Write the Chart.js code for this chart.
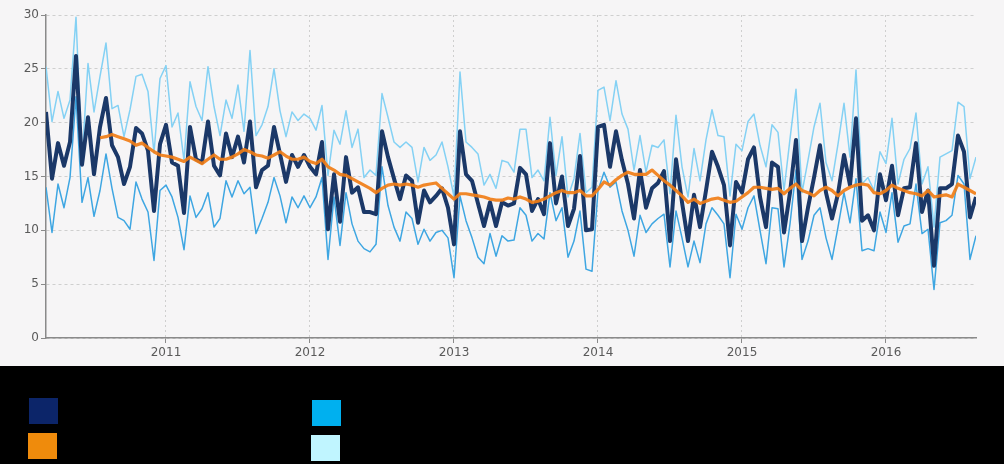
<!DOCTYPE html>
<html>
<head>
<meta charset="utf-8">
<script src="https://cdn.jsdelivr.net/npm/chart.js@4/dist/chart.umd.min.js"></script>
<style>
  body { margin: 0; background: #000; width: 1004px; height: 464px; overflow: hidden; }
  #wrap { position: relative; width: 1004px; height: 366px; background: #f6f5f6; }
  #legend { position: relative; width: 1004px; height: 98px; background: #000; }
  .sw { position: absolute; width: 29px; height: 26px; }
</style>
</head>
<body>
<div id="wrap"><canvas id="chartCanvas"></canvas></div>
<div id="legend">
  <div class="sw" style="left:29px; top:32px; background:#0c2569;"></div>
  <div class="sw" style="left:28px; top:67px; background:#ef8b0c;"></div>
  <div class="sw" style="left:312px; top:34px; background:#00b0ef;"></div>
  <div class="sw" style="left:311px; top:69px; background:#c0f5ff;"></div>
</div>
<script>
// semi-monthly readings, first one at March 2010
const startYear = 2010 + 2 / 12;
const step = 1 / 24;
const yearTicks = [2011, 2012, 2013, 2014, 2015, 2016];

const mainSeries = [
  21.0, 14.8, 18.1, 16.0, 18.2, 26.2, 16.1, 20.5, 15.2, 19.6,
  22.3, 17.9, 16.8, 14.3, 15.9, 19.5, 19.0, 17.4, 11.8, 18.0,
  19.8, 16.3, 16.0, 11.6, 19.6, 16.6, 16.3, 20.1, 16.0, 15.1,
  19.0, 16.8, 18.7, 16.3, 20.1, 14.0, 15.6, 16.0, 19.6, 17.1,
  14.5, 17.0, 15.9, 17.0, 15.9, 15.2, 18.2, 10.1, 15.2, 10.8,
  16.8, 13.5, 14.0, 11.7, 11.7, 11.5, 19.2, 16.8, 14.8, 12.9,
  15.1, 14.6, 10.7, 13.7, 12.6, 13.2, 13.9, 12.1, 8.7, 19.2,
  15.2, 14.6, 12.5, 10.4, 12.6, 10.4, 12.6, 12.3, 12.5,
  15.8, 15.2, 11.8, 12.9, 11.5, 18.1, 12.5, 15.0, 10.4, 12.0,
  16.9, 10.0, 10.1, 19.6, 19.8, 15.9, 19.2, 16.5, 14.3, 11.1,
  15.6, 12.1, 13.9, 14.4, 15.5, 9.0, 16.6, 12.6, 9.0, 13.3,
  10.3, 13.7, 17.3, 15.9, 14.2, 8.6, 14.5, 13.5, 16.6, 17.7,
  13.1, 10.3, 16.3, 15.9, 9.8, 13.5, 18.4, 9.0, 12.1, 14.9,
  17.9, 13.5, 11.1, 13.4, 17.0, 14.2, 20.4, 10.9, 11.4, 10.0,
  15.2, 12.8, 16.0, 11.4, 13.9, 14.0, 18.1, 11.7, 13.7, 6.7,
  13.9, 13.9, 14.3, 18.8, 17.3, 11.2, 13.1
];

const movingAvg = [
  null, null, null, null, null, null, null, null, null,
  18.6, 18.7, 18.9, 18.7, 18.5, 18.3, 17.9, 18.1, 17.7, 17.3,
  17.0, 16.9, 16.8, 16.6, 16.4, 16.8, 16.5, 16.2, 16.6, 17.0,
  16.6, 16.6, 16.8, 17.1, 17.5, 17.3, 17.0, 16.9, 16.7, 17.0,
  17.3, 16.9, 16.6, 16.6, 16.8, 16.4, 16.2, 16.6, 15.9, 15.6,
  15.2, 15.1, 14.8, 14.5, 14.2, 13.9, 13.5, 13.9, 14.2, 14.3,
  14.2, 14.3, 14.2, 14.0, 14.2, 14.3, 14.4, 13.9, 13.4, 12.9,
  13.4, 13.4, 13.3, 13.2, 13.1, 12.9, 12.8, 12.8, 13.0,
  12.9,
  13.1, 12.9, 12.6, 12.7, 12.9, 13.2, 13.5, 13.7, 13.5, 13.5,
  13.7, 13.2, 13.2, 13.8, 14.5, 14.2, 14.7, 15.1, 15.4, 15.2,
  15.2, 15.2, 15.6, 15.1, 14.6, 14.2, 13.7, 13.2, 12.6, 12.9,
  12.5, 12.7, 12.9, 13.0, 12.8, 12.6, 12.7, 13.1, 13.5, 14.0,
  14.0, 13.9, 13.8, 13.9, 13.4, 13.9, 14.3, 13.7, 13.5, 13.2,
  13.7, 14.0, 13.7, 13.2, 13.7, 14.0, 14.2, 14.3, 14.2, 13.5,
  13.4, 13.7, 14.2, 13.9, 13.7, 13.5, 13.4, 13.2, 13.7, 13.1,
  13.2, 13.3, 13.1, 14.3, 14.0, 13.7, 13.4
];

const upperSeries = [
  25.2, 20.1, 22.9, 20.4, 22.1, 29.8, 16.5, 25.5, 21.0, 24.3,
  27.4, 21.3, 21.6, 18.7, 21.2, 24.3, 24.5, 22.9, 17.2, 24.1,
  25.3, 19.6, 20.9, 16.5, 23.8, 21.5, 20.2, 25.2, 21.5, 18.8,
  22.1, 20.4, 23.5, 19.2, 26.7,
  18.8, 19.8, 21.5, 25.0, 21.1, 18.7, 21.0, 20.2, 20.8, 20.4,
  19.3, 21.6, 15.1, 19.3, 18.0, 21.1, 17.7, 19.4, 14.9, 15.6,
  15.1, 22.7, 20.5, 18.2, 17.7, 18.2, 17.7, 14.5, 17.7, 16.5,
  17.0, 18.2, 15.9, 13.1, 24.7, 18.2, 17.7, 17.1, 14.2, 15.2,
  13.9, 16.5, 16.3,
  15.4,
  19.4, 19.4, 14.9, 15.6, 14.6, 20.5, 15.1, 18.7, 13.1, 14.8,
  19.0, 13.5, 14.0, 23.0, 23.3, 20.2, 23.9, 20.8, 19.4, 15.6,
  18.8, 15.4, 17.9, 17.7, 18.4, 13.4, 20.7, 15.9, 13.1, 17.6,
  14.6, 18.4, 21.2, 18.8, 18.7, 13.2, 18.0, 17.4, 20.1, 20.8,
  17.9, 15.9, 19.8, 19.1, 13.7, 18.5, 23.1, 13.5, 16.5, 19.6,
  21.8, 16.3, 14.6, 18.0, 21.8, 16.8, 24.9, 14.3, 14.9, 13.7,
  17.3, 16.2, 20.4, 14.3, 16.6, 17.6, 20.9, 14.3, 15.9, 10.3,
  16.8, 17.1, 17.4, 21.9, 21.5, 14.8, 16.8
];

const lowerSeries = [
  14.0, 9.8, 14.3, 12.1, 14.9, 22.4, 12.6, 14.9, 11.3, 13.7,
  17.1, 13.9, 11.2, 10.9, 10.1, 14.5, 12.9, 11.7, 7.2, 13.7,
  14.2, 13.1, 11.2, 8.2, 13.2, 11.2, 12.0, 13.5, 10.3, 11.1,
  14.6, 13.1, 14.6, 13.4, 14.0, 9.7, 11.1, 12.6, 14.9, 13.2,
  10.7, 13.1, 12.1, 13.2, 12.1, 13.1, 14.9, 7.3, 13.1, 8.6,
  13.5, 10.6, 9.0, 8.3, 8.0, 8.7, 15.9, 12.3, 10.3, 9.0,
  11.7, 11.1, 8.7, 10.1, 9.0, 9.8, 10.0, 9.3, 5.6, 13.2,
  10.9, 9.3, 7.5, 6.9, 9.7, 7.6, 9.5, 9.0,
  9.1,
  12.1, 11.4, 9.0, 9.7, 9.2, 13.5, 10.9, 12.1, 7.5, 9.0,
  11.8, 6.4, 6.2, 13.7, 15.4, 14.0, 14.5, 11.8, 10.0, 7.6,
  11.4, 9.8, 10.6, 11.1, 11.5, 6.6, 11.8, 9.3, 6.6, 9.0,
  7.0, 10.6, 12.1, 11.4, 10.6, 5.6, 11.5, 10.1, 12.1, 13.2,
  10.0, 6.9, 12.1, 12.0, 6.6, 10.6, 15.6, 7.3, 9.0, 11.4,
  12.1, 9.3, 7.3, 10.3, 13.5, 10.7, 14.8, 8.1, 8.3, 8.1,
  11.7, 9.8, 13.5, 8.9, 10.4, 10.6, 14.3, 9.7, 10.1, 4.5,
  10.7, 10.9, 11.4, 15.1, 14.3, 7.3, 9.5
];

function toPoints(arr) {
  return arr.map((v, i) => ({ x: startYear + i * step, y: v }));
}

const lastX = startYear + (mainSeries.length - 1) * step;
const tickFont = { family: 'DejaVu Sans', size: 12 };

const ctx = document.getElementById('chartCanvas').getContext('2d');
new Chart(ctx, {
  type: 'line',
  data: {
    datasets: [
      { label: 'Moving average', data: toPoints(movingAvg), borderColor: 'rgba(240,125,22,0.92)', borderWidth: 3.2 },
      { label: 'Average', data: toPoints(mainSeries), borderColor: '#1b3868', borderWidth: 4 },
      { label: 'Upper', data: toPoints(upperSeries), borderColor: '#84d1f4', borderWidth: 1.5 },
      { label: 'Lower', data: toPoints(lowerSeries), borderColor: '#3ea6e2', borderWidth: 1.5 }
    ]
  },
  options: {
    responsive: true,
    maintainAspectRatio: false,
    animation: false,
    elements: {
      point: { radius: 0, hoverRadius: 0 },
      line: { tension: 0, borderJoinStyle: 'round', borderCapStyle: 'butt' }
    },
    layout: { padding: { left: 0, right: 28, top: 15, bottom: 0 } },
    plugins: { legend: { display: false }, tooltip: { enabled: false } },
    scales: {
      x: {
        type: 'linear',
        min: startYear,
        max: lastX,
        afterFit: s => { s.height = 28; },
        afterBuildTicks: s => { s.ticks = yearTicks.map(v => ({ value: v })); },
        ticks: {
          callback: v => String(v),
          color: '#5a5a5a',
          font: tickFont,
          padding: 3,
          maxRotation: 0
        },
        grid: { color: '#cfcfcf', tickColor: '#8a8a8a', tickLength: 5, lineWidth: 1 },
        border: { color: '#8a8a8a', width: 1.5, dash: [2, 3] }
      },
      y: {
        min: 0,
        max: 30,
        afterFit: s => { s.width = 46; },
        ticks: { stepSize: 5, color: '#5a5a5a', font: tickFont, padding: 2 },
        grid: { color: '#cfcfcf', tickColor: '#8a8a8a', tickLength: 5, lineWidth: 1 },
        border: { color: '#8a8a8a', width: 1.5, dash: [3, 3] }
      }
    }
  }
});
</script>
</body>
</html>
